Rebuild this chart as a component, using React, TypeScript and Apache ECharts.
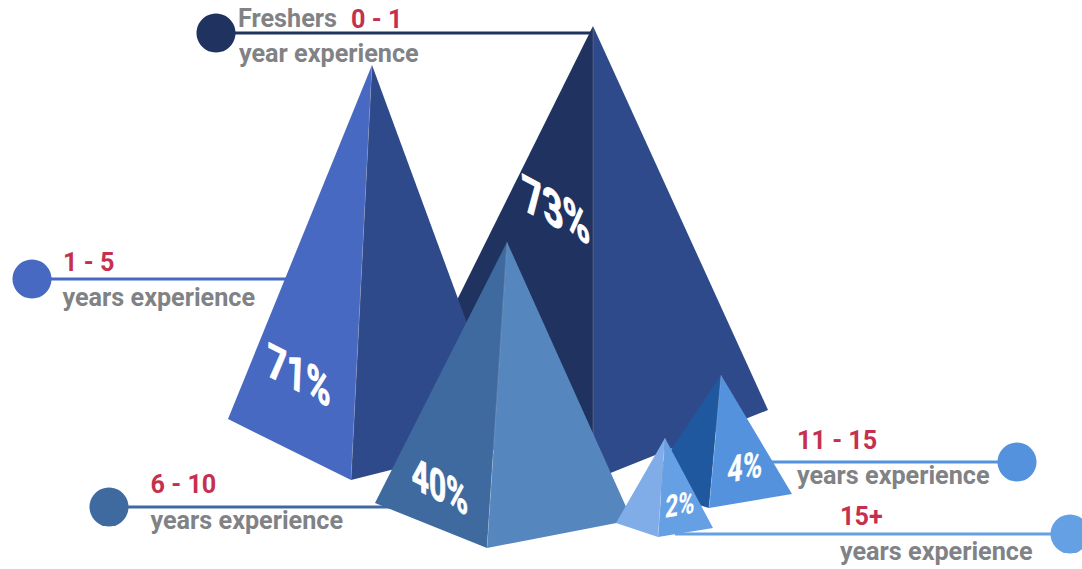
import React, { useEffect, useRef } from "react";
import * as echarts from "echarts";

// Share of respondents per experience band
const bands = ["Freshers", "1 - 5", "6 - 10", "11 - 15", "15+"];
const shares = [73, 71, 40, 4, 2];
const rangeTexts = ["0 - 1", "1 - 5", "6 - 10", "11 - 15", "15+"];
const captionTexts = ["year experience", "years experience", "years experience", "years experience", "years experience"];

const WIDTH = 1082;
const HEIGHT = 569;

// Pyramid layout, in canvas units: foot of the front ridge, apex x, height per percentage point,
// and the two outer base corners.
const footX = [593, 351, 487, 709, 658];
const footY = [480, 480, 548, 508, 537];
const apexX = [593, 372, 507, 721, 665];
const heightPerPoint = [6.22, 5.845, 7.65, 33.25, 49.5];
const leftCorner = [[397, 421], [228, 419], [375, 503], [645, 489], [616, 523]];
const rightCorner = [[768, 410], [510, 440], [632, 520], [792, 494], [713, 528]];
const leftFaceColors = ["#203260", "#4769C1", "#3E6A9F", "#1F589E", "#80ADE8"];
const rightFaceColors = ["#2F4A8A", "#2F4A8A", "#5686BE", "#5492DE", "#659FE4"];

// Percentage labels lie on the faces: centre, font size, outline, and a shear made of
// horizontal squash, baseline slope in degrees and sideways lean of the verticals.
const shareLabelPos = [[556, 210], [299, 375], [440, 487], [745, 467], [680, 505]];
const shareLabelSize = [52, 47, 44, 37, 31];
const shareLabelOutline = [1.1, 1.0, 0.9, 0.4, 0.2];
const shareLabelSquash = [0.68, 0.72, 0.68, 0.72, 0.72];
const shareLabelSlope = [28, 27, 27, -10, -10];
const shareLabelLean = [0.08, -0.04, 0, -0.06, -0.06];

// Leader lines with their end dots.
const dotPos = [[216, 33], [32, 279], [109, 507], [1017, 462], [1070, 534]];
const leaderEndX = [593, 292, 392, 770, 675];
const leaderColors = ["#203260", "#4769C1", "#3E6A9F", "#5492DE", "#659FE4"];
const DOT_RADIUS = 19.5;

// Text blocks beside each leader.
const rangePos = [[351, 19], [63, 262.5], [150.5, 484.5], [797, 440.5], [840, 516.5]];
const captionPos = [[239, 53.5], [62.5, 297.5], [150.5, 520.5], [797, 475.5], [840, 551.5]];
const FRESHERS_POS = [238, 18.5];

const GREY = "#808285";
const RED = "#C6304F";
const FONT = "Roboto";

const bodyText = (text: string, p: number[], fill: string) => ({
  type: "text",
  x: p[0],
  y: p[1],
  style: { text, fill, fontFamily: FONT, fontWeight: 700, fontSize: 25.2, align: "left", verticalAlign: "middle" },
});

// Custom series elements only take scale and rotation, so a shear [[a, b], [c, d]]
// is split by SVD into an outer rotate-and-scale group and an inner rotation.
const decomposeShear = (a: number, b: number, c: number, d: number) => {
  const E = (a + d) / 2;
  const F = (a - d) / 2;
  const G = (c + b) / 2;
  const H = (c - b) / 2;
  const Q = Math.hypot(E, H);
  const R = Math.hypot(F, G);
  const a1 = Math.atan2(G, F);
  const a2 = Math.atan2(H, E);
  return { sx: Q + R, sy: Q - R, outer: (a2 + a1) / 2, inner: (a2 - a1) / 2 };
};

export default function App() {
  const ref = useRef<HTMLDivElement>(null);

  useEffect(() => {
    const chart = echarts.init(ref.current!, undefined, { renderer: "svg" });
    const data = bands.map((_, i) => [i, shares[i]]);

    const leaders = (_: any, api: any) => {
      const i = api.value(0);
      const d = api.coord(dotPos[i]);
      const end = api.coord([leaderEndX[i], dotPos[i][1]]);
      return {
        type: "group",
        children: [
          {
            type: "line",
            shape: { x1: d[0], y1: d[1], x2: end[0], y2: end[1] },
            style: { stroke: leaderColors[i], lineWidth: 3 },
          },
          { type: "circle", shape: { cx: d[0], cy: d[1], r: DOT_RADIUS }, style: { fill: leaderColors[i] } },
        ],
      };
    };

    const pyramids = (_: any, api: any) => {
      const i = api.value(0);
      const foot = api.coord([footX[i], footY[i]]);
      const apex = api.coord([apexX[i], footY[i] - api.value(1) * heightPerPoint[i]]);
      const left = api.coord(leftCorner[i]);
      const right = api.coord(rightCorner[i]);
      return {
        type: "group",
        children: [
          { type: "polygon", shape: { points: [apex, left, foot] }, style: { fill: leftFaceColors[i] } },
          { type: "polygon", shape: { points: [apex, foot, right] }, style: { fill: rightFaceColors[i] } },
          {
            type: "line",
            shape: { x1: apex[0], y1: apex[1], x2: foot[0], y2: foot[1] },
            style: { stroke: "rgba(255,255,255,0.22)", lineWidth: 0.8 },
          },
        ],
      };
    };

    const labels = (_: any, api: any) => {
      const i = api.value(0);
      const c = api.coord(shareLabelPos[i]);
      const k = shareLabelSquash[i];
      const tilt = Math.tan((shareLabelSlope[i] * Math.PI) / 180);
      const { sx, sy, outer, inner } = decomposeShear(k, shareLabelLean[i], k * tilt, 1);
      const children: any[] = [
        {
          type: "group",
          x: c[0],
          y: c[1],
          rotation: -outer,
          scaleX: sx,
          scaleY: sy,
          children: [
            {
              type: "text",
              rotation: -inner,
              style: {
                text: `${api.value(1)}%`,
                fill: "#ffffff",
                stroke: "#ffffff",
                lineWidth: shareLabelOutline[i],
                fontFamily: FONT,
                fontWeight: 700,
                fontSize: shareLabelSize[i],
                align: "center",
                verticalAlign: "middle",
              },
            },
          ],
        },
        bodyText(rangeTexts[i], api.coord(rangePos[i]), RED),
        bodyText(captionTexts[i], api.coord(captionPos[i]), GREY),
      ];
      if (i === 0) children.push(bodyText(bands[0], api.coord(FRESHERS_POS), GREY));
      return { type: "group", children };
    };

    chart.setOption({
      animation: false,
      backgroundColor: "#ffffff",
      grid: { left: 0, right: 0, top: 0, bottom: 0 },
      xAxis: { type: "value", min: 0, max: WIDTH, show: false },
      yAxis: { type: "value", min: 0, max: HEIGHT, inverse: true, show: false },
      series: [
        { type: "custom", name: "leaders", data, renderItem: leaders, silent: true, clip: false, z: 1 },
        { type: "custom", name: "pyramids", data, renderItem: pyramids, silent: true, clip: false, z: 2 },
        { type: "custom", name: "labels", data, renderItem: labels, silent: true, clip: false, z: 3 },
      ],
    });
    return () => chart.dispose();
  }, []);

  return <div ref={ref} style={{ position: "absolute", left: 0, top: 0, width: WIDTH, height: HEIGHT }} />;
}
